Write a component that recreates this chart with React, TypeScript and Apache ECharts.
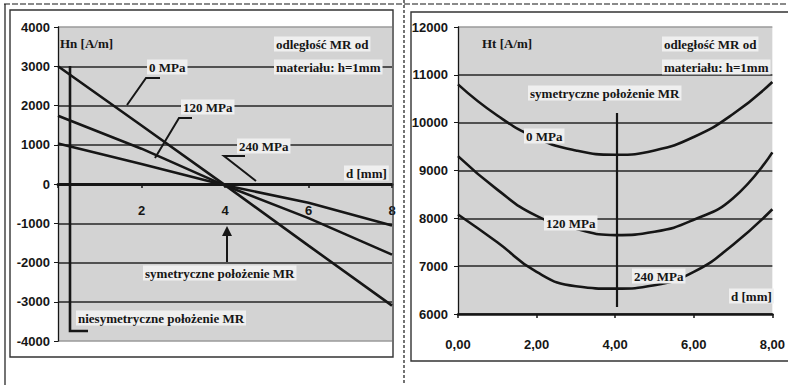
import React, { useEffect, useRef } from 'react';
import * as echarts from 'echarts';

// ---- data ----
const seriesNames = ['0 MPa', '120 MPa', '240 MPa'];

// left chart: Hn [A/m] vs d [mm]
const dLeft = [0, 2, 4, 6, 8];
const hn0 = [3000, 1490, -30, -1570, -3100];
const hn120 = [1740, 900, -40, -870, -1800];
const hn240 = [1030, 510, -30, -480, -1060];

// right chart: Ht [A/m] vs d [mm]
const dRight = [0, 1, 2, 3, 4, 5, 6, 7, 8];
const ht0 = [10800, 10150, 9680, 9420, 9330, 9420, 9700, 10180, 10850];
const ht120 = [9300, 8600, 8050, 7780, 7650, 7720, 7970, 8420, 9380];
const ht240 = [8080, 7500, 6880, 6580, 6530, 6600, 6880, 7450, 8190];

const INK = '#161616';
const PLOT_BG = '#d3d3d3';
const LABEL_BG = '#efefef';
const SERIF = 'Liberation Serif';
const SANS = 'Liberation Sans';

function txt(text: string, x: number, y: number, bg?: string, size = 13) {
  return {
    type: 'text',
    x,
    y,
    z: 50,
    style: {
      text,
      fill: INK,
      fontFamily: SERIF,
      fontWeight: 'bold',
      fontSize: size,
      align: 'left',
      verticalAlign: 'middle',
      backgroundColor: bg,
      padding: bg ? [1, 2, 1, 2] : 0,
    },
  };
}

function seg(x1: number, y1: number, x2: number, y2: number, w = 2, z = 40, dash?: number[]) {
  return {
    type: 'line',
    z,
    shape: { x1, y1, x2, y2 },
    style: { stroke: INK, lineWidth: w, lineDash: dash },
  };
}

export default function App() {
  const ref = useRef<HTMLDivElement>(null);
  useEffect(() => {
    if (!ref.current) return;
    const chart = echarts.init(ref.current, undefined, { renderer: 'svg' });

    const pair = (xs: number[], ys: number[]) => xs.map((x, i) => [x, ys[i]]);
    const lineSeries = (name: string, data: number[][], idx: number, smooth: boolean) => ({
      type: 'line',
      name,
      xAxisIndex: idx,
      yAxisIndex: idx,
      data,
      smooth,
      showSymbol: false,
      symbol: 'none',
      lineStyle: { color: INK, width: 2.6 },
      z: 5,
    });

    const tickLabel = { color: INK, fontWeight: 'bold', fontSize: 13, fontFamily: SANS };

    // left grid: top 27, bottom 44 -> plot height 314; zero sits at its middle
    const leftGridTop = 27;
    const leftGridBottom = 44;
    const leftPlotH = 385 - leftGridTop - leftGridBottom;

    const option: any = {
      animation: false,
      backgroundColor: '#ffffff',
      grid: [
        { left: 58, right: 396, top: leftGridTop, bottom: leftGridBottom, show: true, backgroundColor: PLOT_BG, borderWidth: 0 },
        { left: 458, right: 13, top: 27, bottom: 71, show: true, backgroundColor: PLOT_BG, borderWidth: 0 },
      ],
      xAxis: [
        {
          type: 'value', gridIndex: 0, min: 0, max: 8, interval: 2,
          offset: -leftPlotH / 2,
          axisLine: { onZero: false, lineStyle: { color: INK, width: 3 } },
          axisTick: { show: true, length: 4, lineStyle: { color: INK, width: 1.5 } },
          axisLabel: { ...tickLabel, margin: 20, formatter: (v: number) => (v === 0 ? '' : String(v)) },
          splitLine: { show: false },
        },
        {
          type: 'value', gridIndex: 1, min: 0, max: 8, interval: 2,
          axisLine: { onZero: false, lineStyle: { color: INK, width: 2.6 } },
          axisTick: { show: true, length: 4, lineStyle: { color: INK, width: 1.5 } },
          axisLabel: { ...tickLabel, margin: 24, formatter: (v: number) => v.toFixed(2).replace('.', ',') },
          splitLine: { show: false },
        },
      ],
      yAxis: [
        {
          type: 'value', gridIndex: 0, min: -4000, max: 4000, interval: 1000,
          axisLine: { show: true, onZero: false, lineStyle: { color: INK, width: 1.3 } },
          axisTick: { show: true, length: 4, lineStyle: { color: INK } },
          axisLabel: { ...tickLabel, margin: 8, formatter: (v: number) => String(v) },
          splitLine: {
            show: true,
            lineStyle: {
              color: ['#9a9a9a', '#262626', '#262626', '#262626', '#262626', '#262626', '#262626', '#262626', '#9a9a9a'],
              width: 1.6,
            },
          },
        },
        {
          type: 'value', gridIndex: 1, min: 6000, max: 12000, interval: 1000,
          axisLine: { show: true, onZero: false, lineStyle: { color: INK, width: 1.3 } },
          axisTick: { show: true, length: 4, lineStyle: { color: INK } },
          axisLabel: { ...tickLabel, margin: 10, formatter: (v: number) => String(v) },
          splitLine: {
            show: true,
            lineStyle: {
              color: ['#262626', '#262626', '#262626', '#262626', '#262626', '#262626', '#9a9a9a'],
              width: 1.6,
            },
          },
        },
      ],
      series: [
        lineSeries(seriesNames[0], pair(dLeft, hn0), 0, false),
        lineSeries(seriesNames[1], pair(dLeft, hn120), 0, false),
        lineSeries(seriesNames[2], pair(dLeft, hn240), 0, false),
        lineSeries(seriesNames[0], pair(dRight, ht0), 1, true),
        lineSeries(seriesNames[1], pair(dRight, ht120), 1, true),
        lineSeries(seriesNames[2], pair(dRight, ht240), 1, true),
      ],
      graphic: [
        // frames
        seg(4, 4, 788, 4, 1.2, 1, [6, 2]),
        seg(5, 4, 5, 385, 1.2, 1),
        seg(404, 0, 404, 385, 1.2, 1, [3, 2]),
        {
          type: 'rect', z: 1,
          shape: { x: 10, y: 10, width: 383, height: 347 },
          style: { fill: 'none', stroke: '#333', lineWidth: 1.4 },
        },
        {
          type: 'rect', z: 1,
          shape: { x: 411, y: 12, width: 390, height: 349 },
          style: { fill: 'none', stroke: '#333', lineWidth: 1.4 },
        },
        // ---- left panel annotations ----
        txt('Hn [A/m]', 60, 43),
        txt('odległość MR od', 274, 44, LABEL_BG),
        txt('materiału: h=1mm', 274, 67, LABEL_BG),
        txt(seriesNames[0], 147, 67, LABEL_BG),
        { type: 'polyline', z: 40, shape: { points: [[160, 78], [146, 78], [127, 105]] }, style: { stroke: INK, fill: 'none', lineWidth: 2 } },
        txt(seriesNames[1], 181, 107, LABEL_BG),
        { type: 'polyline', z: 40, shape: { points: [[192, 118], [179, 118], [155, 158]] }, style: { stroke: INK, fill: 'none', lineWidth: 2 } },
        txt(seriesNames[2], 237, 146, LABEL_BG),
        { type: 'polyline', z: 40, shape: { points: [[245, 156], [224, 156], [256, 181]] }, style: { stroke: INK, fill: 'none', lineWidth: 2 } },
        txt('d [mm]', 344, 173, LABEL_BG),
        // arrow at d = 4
        seg(227, 262, 227, 234, 2),
        { type: 'polygon', z: 40, shape: { points: [[222, 236], [232, 236], [227, 226]] }, style: { fill: INK } },
        txt('symetryczne położenie MR', 143, 273, LABEL_BG),
        // asymmetric position bracket
        { type: 'polyline', z: 40, shape: { points: [[70, 66], [70, 331], [88, 331]] }, style: { stroke: INK, fill: 'none', lineWidth: 2.6 } },
        txt('niesymetryczne położenie MR', 76, 318, LABEL_BG),
        // ---- right panel annotations ----
        txt('Ht [A/m]', 482, 43),
        txt('odległość MR od', 662, 44, LABEL_BG),
        txt('materiału: h=1mm', 662, 67, LABEL_BG),
        txt('symetryczne położenie MR', 528, 93, LABEL_BG),
        seg(617, 113, 617, 307, 2.2, 8),
        txt(seriesNames[0], 524, 136, LABEL_BG),
        txt(seriesNames[1], 544, 223, LABEL_BG),
        txt(seriesNames[2], 632, 276, LABEL_BG),
        txt('d [mm]', 729, 296, LABEL_BG),
      ],
    };

    chart.setOption(option);
    return () => chart.dispose();
  }, []);

  return <div ref={ref} style={{ position: 'fixed', left: 0, top: 0, width: 788, height: 385 }} />;
}
